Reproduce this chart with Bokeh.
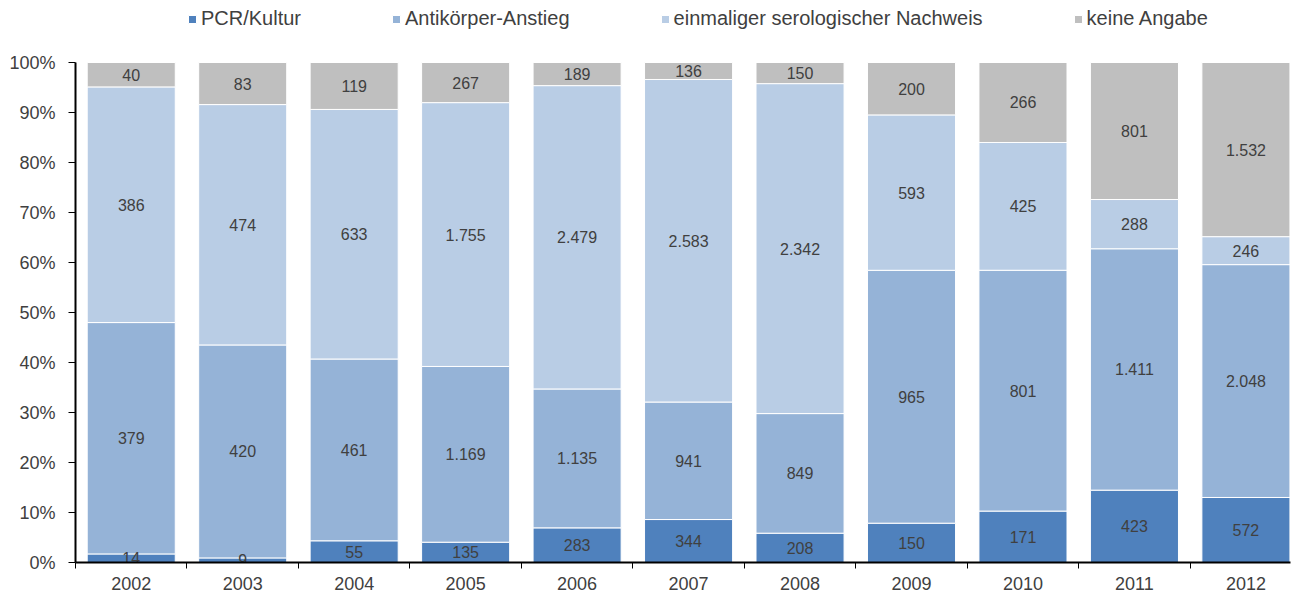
from bokeh.plotting import figure
from bokeh.models import ColumnDataSource, FixedTicker, Legend, LegendItem, CustomJSTickFormatter
from bokeh.embed import file_html
from bokeh.resources import INLINE
from bokeh.core.properties import value

years = ["2002", "2003", "2004", "2005", "2006", "2007", "2008", "2009", "2010", "2011", "2012"]
pcr = [14, 9, 55, 135, 283, 344, 208, 150, 171, 423, 572]
anti = [379, 420, 461, 1169, 1135, 941, 849, 965, 801, 1411, 2048]
einm = [386, 474, 633, 1755, 2479, 2583, 2342, 593, 425, 288, 246]
keine = [40, 83, 119, 267, 189, 136, 150, 200, 266, 801, 1532]

series = [pcr, anti, einm, keine]
names = ["PCR/Kultur", "Antikörper-Anstieg", "einmaliger serologischer Nachweis", "keine Angabe"]
colors = ["#4F81BD", "#95B3D7", "#B9CDE5", "#BFBFBF"]
keys = ["s0", "s1", "s2", "s3"]

FONT = "Liberation Sans"
TXT = "#404040"

xs = list(range(len(years)))
totals = [sum(s[i] for s in series) for i in xs]
data = {"x": xs}
for k, s in zip(keys, series):
    data[k] = [100.0 * v / t for v, t in zip(s, totals)]
src = ColumnDataSource(data)

# frame spans full height above the axis; extra room above 100% holds the legend
p = figure(width=1291, height=597, x_range=(-0.5, 10.4), y_range=(0, 112.4),
           output_backend="svg", toolbar_location=None,
           min_border_left=75, min_border_right=1, min_border_top=0, min_border_bottom=35)
p.outline_line_color = None
p.xgrid.visible = False
p.ygrid.visible = False

rs = p.vbar_stack(keys, x="x", width=0.79, source=src, color=colors,
                  line_color="white", line_width=1)

# segment labels
lx, ly, lt = [], [], []
for i in xs:
    base = 0.0
    for k, s in zip(keys, series):
        h = data[k][i]
        lx.append(i)
        ly.append(base + h / 2)
        lt.append(f"{s[i]:,}".replace(",", "."))
        base += h
p.text(x=lx, y=ly, text=lt, text_align="center", text_baseline="middle",
       text_font=value(FONT), text_font_size="16px", text_color=TXT)

# y axis
p.yaxis.ticker = FixedTicker(ticks=list(range(0, 101, 10)))
p.yaxis.bounds = (0, 100)
p.yaxis.formatter = CustomJSTickFormatter(code="return tick + '%';")
p.yaxis.axis_line_color = "black"
p.yaxis.axis_line_width = 2
p.yaxis.major_tick_out = 7
p.yaxis.major_tick_in = 0
p.yaxis.minor_tick_out = 0
p.yaxis.minor_tick_in = 0
p.yaxis.major_tick_line_color = "black"
p.yaxis.major_label_text_font = FONT
p.yaxis.major_label_text_font_size = "18px"
p.yaxis.major_label_text_color = TXT
p.yaxis.major_label_standoff = 13

# x axis
p.xaxis.ticker = FixedTicker(ticks=xs, minor_ticks=[i - 0.5 for i in range(len(years) + 1)])
p.xaxis.major_label_overrides = {i: y for i, y in enumerate(years)}
p.xaxis.axis_line_color = "black"
p.xaxis.axis_line_width = 2
p.xaxis.major_tick_out = 0
p.xaxis.major_tick_in = 0
p.xaxis.minor_tick_out = 6
p.xaxis.minor_tick_in = 0
p.xaxis.minor_tick_line_color = "black"
p.xaxis.major_label_text_font = FONT
p.xaxis.major_label_text_font_size = "18px"
p.xaxis.major_label_text_color = TXT
p.xaxis.major_label_standoff = 8

lg = Legend(items=[LegendItem(label=n, renderers=[r]) for n, r in zip(names, rs)],
            orientation="horizontal", location=(112, 532))
lg.label_text_font = FONT
lg.label_text_font_size = "20px"
lg.label_text_color = TXT
lg.glyph_width = 10
lg.glyph_height = 10
lg.label_standoff = 4
lg.spacing = 90
lg.border_line_color = None
lg.background_fill_alpha = 0
lg.padding = 0
lg.margin = 0
p.add_layout(lg, "center")

open("out.html", "w").write(file_html(p, INLINE))
